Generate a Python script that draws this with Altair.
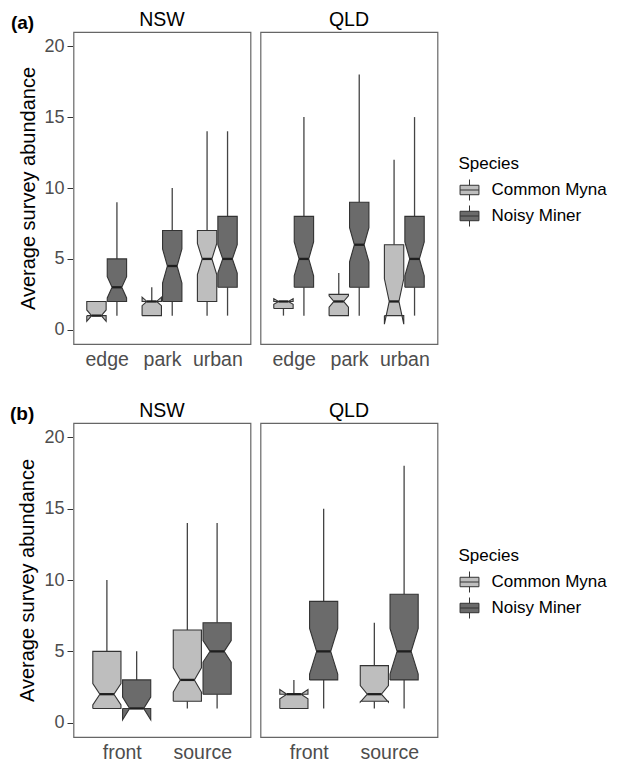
import altair as alt
import pandas as pd

species = ["Common Myna", "Noisy Miner"]
fills = ["#bebebe", "#6b6b6b"]
sites_a = ["edge", "park", "urban"]
sites_b = ["front", "source"]

# ---- panel (a): box statistics ----
a_region = ["NSW"] * 6 + ["QLD"] * 6
a_site = ["edge", "edge", "park", "park", "urban", "urban"] * 2
a_species = species * 6
a_lo = [1, 1, 1, 1, 1, 1, 1, 1, 1, 1, 1, 1]
a_q1 = [1, 2, 1, 2, 2, 3, 1.5, 3, 1, 3, 1, 3]
a_med = [1, 3, 2, 4.5, 5, 5, 2, 5, 2, 6, 2, 5]
a_q3 = [2, 5, 2, 7, 7, 8, 2, 8, 2.5, 9, 6, 8]
a_hi = [2, 9, 3, 10, 14, 14, 2, 15, 4, 18, 12, 15]
a_nlo = [0.6, 2.25, 1.7, 3.3, 3.9, 4.0, 1.8, 3.8, 1.6, 4.8, 0.4, 3.8]
a_nhi = [1.4, 3.75, 2.3, 5.7, 6.1, 6.0, 2.2, 6.2, 2.4, 7.2, 3.6, 6.2]

# ---- panel (b) ----
b_region = ["NSW"] * 4 + ["QLD"] * 4
b_site = ["front", "front", "source", "source"] * 2
b_species = species * 4
b_lo = [1, 1, 1, 1, 1, 1, 1, 1]
b_q1 = [1, 1, 1.5, 2, 1, 3, 1.5, 3]
b_med = [2, 1, 3, 5, 2, 5, 2, 5]
b_q3 = [5, 3, 6.5, 7, 2, 8.5, 4, 9]
b_hi = [10, 5, 14, 14, 3, 15, 7, 18]
b_nlo = [1.25, 0.2, 2.15, 4.25, 1.67, 3.4, 1.45, 3.4]
b_nhi = [2.75, 1.8, 3.85, 5.75, 2.33, 6.6, 2.6, 6.6]

y_ticks = [0, 5, 10, 15, 20]

HALF = 0.175
OFF = 0.185
IND = HALF / 2.0
FONT = "Liberation Sans"

box_glyph = ("M-0.9,-0.45H0.9V0.45H-0.9Z"
             "M-0.9,0H0.9"
             "M0,-0.45V-1M0,0.45V1")

VERTS = ["q1", "nlo", "med", "nhi", "q3", "q3", "nhi", "med", "nlo", "q1", "q1"]


def make_df(region, site, sp, lo, q1, med, q3, hi, nlo, nhi):
    return pd.DataFrame({
        "region": region, "site": site, "species": sp,
        "lo": lo, "q1": q1, "med": med, "q3": q3, "hi": hi,
        "nlo": nlo, "nhi": nhi,
    })


def panel(df, sites, label, height, title_pad, legend_y):
    js_sites = "[" + ",".join("'%s'" % s for s in sites) + "]"
    pos_expr = ("indexof(%s, datum.site) + 1 + (datum.species == 'Common Myna' ? %f : %f)"
                % (js_sites, -OFF, OFF))
    label_expr = js_sites + "[datum.value - 1]"

    xscale = alt.Scale(domain=[0.4, len(sites) + 0.6], nice=False, zero=False)
    yscale = alt.Scale(domain=[-1, 21], nice=False, zero=False)
    xaxis = alt.Axis(values=list(range(1, len(sites) + 1)), labelExpr=label_expr,
                     title=None, grid=False, ticks=False, tickSize=0, domain=False,
                     labelFontSize=19.5, labelColor="#4d4d4d", labelPadding=5,
                     labelFont=FONT)
    yaxis = alt.Axis(values=y_ticks, title="Average survey abundance", grid=False,
                     domain=False, tickSize=5.5, tickColor="#333333",
                     labelFontSize=18, labelColor="#4d4d4d", labelPadding=3,
                     titleFontSize=20, titleFontWeight="normal", titleColor="black",
                     titlePadding=title_pad, labelFont=FONT, titleFont=FONT)

    color = alt.Color("species:N",
                      scale=alt.Scale(domain=species, range=fills),
                      legend=alt.Legend(title="Species", orient="none",
                                        legendX=385, legendY=legend_y,
                                        symbolType=box_glyph, symbolSize=441,
                                        symbolStrokeColor="#333333",
                                        symbolStrokeWidth=1,
                                        titleFontSize=17, titleFontWeight="normal",
                                        labelFontSize=17, labelColor="black",
                                        titleColor="black", titlePadding=6,
                                        rowPadding=0, labelOffset=11,
                                        labelFont=FONT, titleFont=FONT))

    base = alt.Chart().transform_calculate(pos=pos_expr)

    whisk_lo = base.mark_rule(color="#444444", strokeWidth=1.3).encode(
        x=alt.X("pos:Q", scale=xscale, axis=xaxis),
        y=alt.Y("lo:Q", scale=yscale, axis=yaxis),
        y2="q1:Q",
    )
    whisk_hi = base.mark_rule(color="#444444", strokeWidth=1.3).encode(
        x=alt.X("pos:Q", scale=xscale, axis=xaxis),
        y=alt.Y("q3:Q", scale=yscale, axis=yaxis),
        y2="hi:Q",
    )
    vcalc = {"v%d" % i: "datum.%s" % f for i, f in enumerate(VERTS)}
    boxes = base.transform_calculate(**vcalc).transform_fold(
        ["v%d" % i for i in range(len(VERTS))], as_=["k", "yv"]
    ).transform_calculate(
        idx="toNumber(substring(datum.k, 1))",
    ).transform_calculate(
        side="(datum.idx >= 5 && datum.idx <= 9) ? 1 : -1",
        ind="(datum.idx == 2 || datum.idx == 7) ? %f : 0" % IND,
    ).transform_calculate(
        xv="datum.pos + datum.side * (%f - datum.ind)" % HALF,
    ).mark_line(filled=True, stroke="#333333", strokeWidth=1.1,
                interpolate="linear", strokeJoin="miter").encode(
        y=alt.Y("yv:Q", scale=yscale, axis=yaxis),
        x=alt.X("xv:Q", scale=xscale, axis=xaxis),
        color=color,
        detail="site:N",
        order=alt.Order("idx:Q"),
    )
    medians = base.transform_calculate(
        ml="datum.pos - %f" % (HALF - IND),
        mr="datum.pos + %f" % (HALF - IND),
    ).mark_rule(color="#1f1f1f", strokeWidth=2.3).encode(
        x=alt.X("ml:Q", scale=xscale, axis=xaxis),
        x2="mr:Q",
        y=alt.Y("med:Q", scale=yscale, axis=yaxis),
    )

    layered = alt.layer(whisk_lo, whisk_hi, boxes, medians).properties(
        width=177, height=height)

    return layered.facet(
        data=df,
        column=alt.Column("region:N", sort=["NSW", "QLD"],
                          header=alt.Header(title=None, labelFontSize=19.5,
                                            labelColor="black", labelPadding=0.5,
                                            labelFont=FONT)),
        spacing=8,
    ).properties(
        title=alt.TitleParams(label, anchor="start", fontSize=19,
                              fontWeight="bold", color="black", font=FONT,
                              offset=-23, dx=-8)
    )


df_a = make_df(a_region, a_site, a_species, a_lo, a_q1, a_med, a_q3, a_hi, a_nlo, a_nhi)
df_b = make_df(b_region, b_site, b_species, b_lo, b_q1, b_med, b_q3, b_hi, b_nlo, b_nhi)

pa = panel(df_a, sites_a, "(a)", 312, 5, 124)
pb = panel(df_b, sites_b, "(b)", 314, 6, 125)

chart = alt.vconcat(pa, pb, spacing=32).resolve_scale(
    color="independent"
).resolve_legend(color="independent").configure(
    padding={"left": 1.5, "top": 2, "right": 0, "bottom": 0},
).configure_view(
    stroke="#666666", strokeWidth=1.2
).configure_concat(spacing=32)

chart.save("out.html", embed_options={"renderer": "svg", "actions": False})
